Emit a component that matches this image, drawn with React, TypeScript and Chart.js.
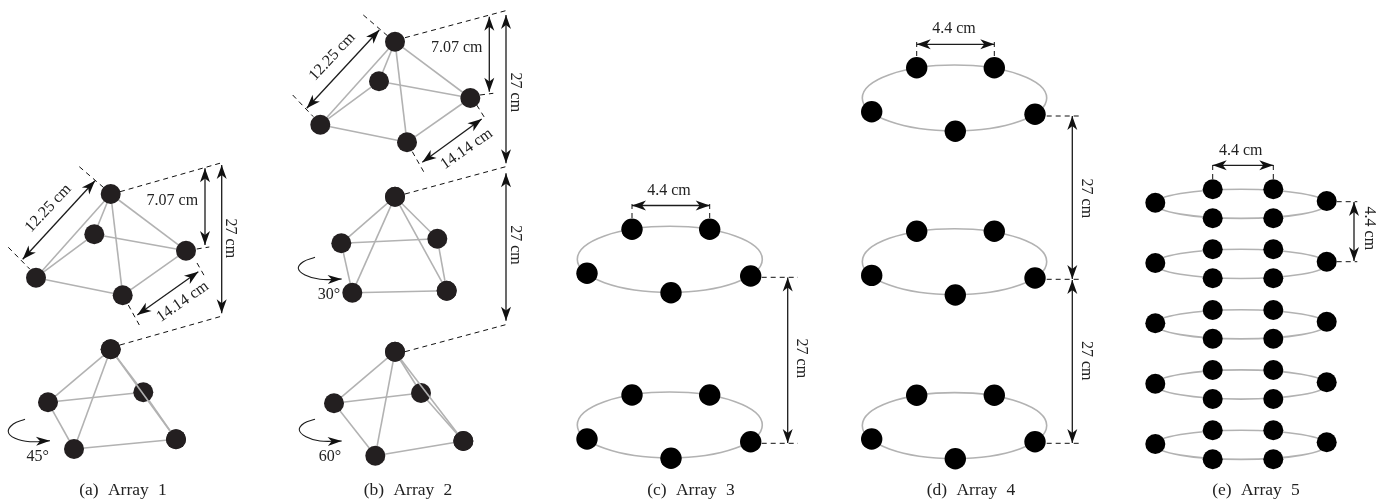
import React, { useEffect, useRef } from "react";
import { Chart, registerables } from "chart.js";

Chart.register(...registerables);

type P = [number, number];
type Seg = [number, number, number, number];

// Nodes of the tilted arrays: [apex, back, right, front, left]
const array1Upper: P[] = [[110.7, 194], [94.3, 234.3], [186, 250.7], [122.7, 295.3], [36, 277.7]];
const array2Upper: P[] = [[395, 41.7], [379, 81.3], [470.3, 98], [407, 142.3], [320.3, 124.7]];
const upperEdges = [[0, 4], [0, 1], [0, 3], [0, 2], [1, 4], [3, 4], [1, 2], [2, 3]];

// Nodes of rotated arrays: [apex, left, back, front, right]
const array1Lower: P[] = [[110.7, 349.3], [48, 402.3], [143.3, 392.3], [74, 449], [176, 439.3]];
const array2Middle: P[] = [[395, 196.7], [341.3, 243.3], [437.3, 238.7], [352.3, 292.7], [446.7, 290.7]];
const array2Lower: P[] = [[395, 351.7], [334, 403.3], [421, 393], [375.3, 455.7], [463.3, 441]];
const lowerEdges = [[0, 1], [0, 3], [0, 2], [1, 2], [1, 3], [3, 4], [2, 4]];
const lowerOverEdge = [0, 4];

const array3Rings: P[][] = [
  [[632, 229.3], [709.7, 229.3], [587, 273.3], [750.7, 276], [671, 292.7]],
  [[632, 395], [709.7, 395], [587, 439], [750.7, 441.7], [671, 458.3]],
];
const array4Rings: P[][] = [
  [[916.7, 67.7], [994.3, 67.7], [871.7, 111.7], [1035, 114.3], [955.3, 131.3]],
  [[916.7, 231.3], [994.3, 231.3], [871.7, 275.4], [1035, 278], [955.3, 295]],
  [[916.7, 395.3], [994.3, 395.3], [871.7, 439], [1035, 441.7], [955.3, 458.7]],
];
const array5Xs = [1155.3, 1212.7, 1273.3, 1326.7];
const array5Upper = [189.3, 249.3, 310, 370, 430.3];
const array5Lower = [218.3, 278.3, 338.7, 399, 459.3];
const array5Left = [202.7, 263, 323.3, 383.7, 444];
const array5Right = [201, 261.7, 321.7, 382.3, 442.3];

// Rings: [centre x, centre y, radius x, radius y]
const rings: number[][] = [
  [669.8, 259.3, 92.5, 33], [669.8, 425, 92.5, 33],
  [954.5, 98, 92.2, 33], [954.5, 261.7, 92.2, 33], [954.5, 425.6, 92.2, 33],
  [1241, 203.8, 85.7, 14.6], [1241, 263.9, 85.7, 14.6], [1241, 324.3, 85.7, 14.6],
  [1241, 384.5, 85.7, 14.6], [1241, 444.8, 85.7, 14.6],
];

const dashedLines: Seg[] = [
  [79.3, 166.7, 110, 193], [8.3, 247.3, 30, 269.3], [120, 191.7, 223.3, 162.3],
  [196.7, 249, 209.3, 247], [197, 263, 205, 277], [128.3, 305, 139.3, 325], [120, 345, 223.3, 315.7],
  [363.3, 15, 393.3, 40.7], [292.7, 95, 313.3, 116.7], [405, 37.7, 508.3, 10],
  [480, 95, 493.3, 93.3], [476.7, 105, 485, 118.3], [412.3, 151.7, 424, 172.3],
  [405, 194, 508.3, 166], [405, 351.7, 508.3, 324],
  [632, 204, 632, 219], [709.7, 204, 709.7, 219],
  [761.7, 277.3, 798, 277.3], [761.7, 443.3, 798, 443.3],
  [916.7, 42, 916.7, 57], [994.3, 42, 994.3, 57],
  [1046.7, 116, 1082.7, 116], [1046.7, 279.3, 1082.7, 279.3], [1046.7, 443.3, 1082.7, 443.3],
  [1212.7, 165, 1212.7, 180], [1273.3, 165, 1273.3, 180],
  [1336.7, 201.7, 1357.3, 201.7], [1336.7, 261.7, 1357.3, 261.7],
];

const dimensions: Seg[] = [
  [95, 180.7, 22.7, 259.3], [205, 168.3, 205, 245], [221.7, 165, 221.7, 313.3], [198.3, 271.7, 137.3, 315],
  [379.3, 30, 306.7, 108.3], [489.3, 16.7, 489.3, 91.7], [506, 15, 506, 163.3], [481.7, 119, 422.3, 162.3],
  [506, 173.3, 506, 320.7],
  [632, 205.5, 709.7, 205.5], [787.7, 277.5, 787.7, 443],
  [916.7, 44.3, 994.3, 44.3], [1072.3, 116, 1072.3, 279], [1072.3, 280, 1072.3, 443],
  [1212.7, 165.3, 1273.3, 165.3], [1354, 202, 1354, 261],
];

const rotationArrows: P[][] = [
  [[25, 419.3], [13.3, 424], [8.3, 431.7], [15, 438.3], [30, 441.7], [50, 440.7]],
  [[315, 257.3], [303.3, 261.7], [298.3, 268.3], [305, 275], [320, 279.3], [341.7, 279]],
  [[315, 419.3], [304, 423.3], [299.3, 430], [306, 436.7], [320, 441], [341.7, 441]],
];

const labelTexts = [
  "12.25 cm", "7.07 cm", "27 cm", "14.14 cm", "45°",
  "12.25 cm", "7.07 cm", "27 cm", "14.14 cm", "27 cm", "30°", "60°",
  "4.4 cm", "27 cm",
  "4.4 cm", "27 cm", "27 cm",
  "4.4 cm", "4.4 cm",
];
const labelXs = [48.3, 172.3, 230, 182.7, 37.7, 332.3, 456.7, 515, 466.7, 515, 329, 330, 669, 801.7, 954, 1086, 1086, 1240.7, 1369.3];
const labelYs = [208.3, 200.7, 238.3, 301.7, 456.7, 56.7, 47.7, 92.3, 149, 245, 294.3, 456.7, 190.7, 358.3, 28.3, 198.3, 360.7, 150.7, 228.3];
const labelAngles = [-47, 0, 90, -35, 0, -47, 0, 90, -35, 90, 0, 0, 0, 90, 0, 90, 90, 0, 90];

const captions = ["(a) Array 1", "(b) Array 2", "(c) Array 3", "(d) Array 4", "(e) Array 5"];
const captionXs = [123, 408, 691, 971, 1256];
const captionY = 490.5;

const GREY = "#b2b2b2";
const DARK = "#231f20";

const pts = (a: P[]) => a.map(([x, y]) => ({ x, y }));

function edgeSet(nodes: P[], e: number[], order = 3) {
  return {
    type: "line" as const,
    data: [{ x: nodes[e[0]][0], y: nodes[e[0]][1] }, { x: nodes[e[1]][0], y: nodes[e[1]][1] }],
    borderColor: GREY, borderWidth: 1.6, pointRadius: 0, order,
  };
}
function segSet(s: Seg, dashed: boolean) {
  return {
    type: "line" as const,
    data: [{ x: s[0], y: s[1] }, { x: s[2], y: s[3] }],
    borderColor: dashed ? "#111111" : "#1c1c1c",
    borderWidth: dashed ? 1 : 1.3,
    borderDash: dashed ? [5, 4] : [],
    pointRadius: 0, order: 2,
  };
}
function dotSet(nodes: P[], color: string, r: number, order = 1) {
  return {
    type: "scatter" as const,
    data: pts(nodes),
    backgroundColor: color, borderColor: color, borderWidth: 0,
    pointRadius: r, pointHoverRadius: r, showLine: false, order,
  };
}

function head(ctx: CanvasRenderingContext2D, tipX: number, tipY: number, fromX: number, fromY: number, len = 14, halfW = 5) {
  const a = Math.atan2(tipY - fromY, tipX - fromX);
  ctx.save();
  ctx.translate(tipX, tipY);
  ctx.rotate(a);
  ctx.fillStyle = "#111111";
  ctx.beginPath();
  ctx.moveTo(0, 0);
  ctx.lineTo(-len, -halfW);
  ctx.lineTo(-len * 0.72, 0);
  ctx.lineTo(-len, halfW);
  ctx.closePath();
  ctx.fill();
  ctx.restore();
}

const diagramPlugin = {
  id: "diagram",
  beforeDatasetsDraw(chart: any) {
    const { ctx, scales: { x, y } } = chart;
    ctx.save();
    ctx.strokeStyle = GREY;
    ctx.lineWidth = 1.6;
    rings.forEach(([cx, cy, rx, ry]) => {
      const px = x.getPixelForValue(cx);
      const py = y.getPixelForValue(cy);
      ctx.beginPath();
      ctx.ellipse(px, py, x.getPixelForValue(cx + rx) - px, y.getPixelForValue(cy + ry) - py, 0, 0, Math.PI * 2);
      ctx.stroke();
    });
    ctx.restore();
  },
  afterDatasetsDraw(chart: any) {
    const { ctx, scales: { x, y } } = chart;
    const X = (v: number) => x.getPixelForValue(v);
    const Y = (v: number) => y.getPixelForValue(v);
    dimensions.forEach(([x1, y1, x2, y2]) => {
      head(ctx, X(x1), Y(y1), X(x2), Y(y2));
      head(ctx, X(x2), Y(y2), X(x1), Y(y1));
    });
    rotationArrows.forEach((a) => {
      const end = a[a.length - 1];
      head(ctx, X(end[0]), Y(end[1]), X(end[0]) - 14, Y(end[1]) + 0.5, 14, 4.5);
    });
    ctx.save();
    ctx.fillStyle = "#222222";
    ctx.textAlign = "center";
    ctx.textBaseline = "middle";
    ctx.font = '16px "Liberation Serif"';
    labelTexts.forEach((t, i) => {
      ctx.save();
      ctx.translate(X(labelXs[i]), Y(labelYs[i]));
      ctx.rotate((labelAngles[i] * Math.PI) / 180);
      ctx.fillText(t, 0, 0);
      ctx.restore();
    });
    ctx.font = '17.5px "Liberation Serif"';
    (ctx as any).wordSpacing = "5px";
    captions.forEach((t, i) => ctx.fillText(t, X(captionXs[i]), Y(captionY)));
    ctx.restore();
  },
};

export default function App() {
  const ref = useRef<HTMLCanvasElement>(null);
  useEffect(() => {
    const datasets: any[] = [];
    [array1Upper, array2Upper].forEach((n) => {
      upperEdges.forEach((e) => datasets.push(edgeSet(n, e)));
      datasets.push(dotSet(n, DARK, 10));
    });
    [array1Lower, array2Middle, array2Lower].forEach((n) => {
      lowerEdges.forEach((e) => datasets.push(edgeSet(n, e)));
      datasets.push(edgeSet(n, lowerOverEdge, 0));
      datasets.push(dotSet(n, DARK, 10));
      // apex and outer node sit above the edge that crosses the back node
      datasets.push(dotSet([n[lowerOverEdge[0]], n[lowerOverEdge[1]]], DARK, 10, -1));
    });
    [...array3Rings, ...array4Rings].forEach((n) => datasets.push(dotSet(n, "#000000", 10.7)));
    array5Upper.forEach((_, i) => {
      const nodes: P[] = [
        [array5Xs[0], array5Left[i]], [array5Xs[1], array5Upper[i]], [array5Xs[2], array5Upper[i]],
        [array5Xs[1], array5Lower[i]], [array5Xs[2], array5Lower[i]], [array5Xs[3], array5Right[i]],
      ];
      datasets.push(dotSet(nodes, "#000000", 10));
    });
    dashedLines.forEach((s) => datasets.push(segSet(s, true)));
    dimensions.forEach((s) => datasets.push(segSet(s, false)));
    rotationArrows.forEach((a) =>
      datasets.push({
        type: "line", data: pts(a), borderColor: "#1c1c1c", borderWidth: 1.1, pointRadius: 0, tension: 0.4, order: 2,
      })
    );

    const chart = new Chart(ref.current as HTMLCanvasElement, {
      type: "scatter",
      data: { datasets },
      options: {
        animation: false,
        responsive: false,
        events: [],
        layout: { padding: 0, autoPadding: false },
        plugins: { legend: { display: false }, tooltip: { enabled: false } },
        scales: {
          x: { type: "linear", min: 0, max: 1387, display: false },
          y: { type: "linear", min: 0, max: 502, reverse: true, display: false },
        },
      },
      plugins: [diagramPlugin],
    } as any);
    return () => chart.destroy();
  }, []);
  return (
    <div style={{ position: "fixed", left: 0, top: 0, width: 1387, height: 502, background: "#fff" }}>
      <canvas ref={ref} width={1387} height={502} style={{ display: "block" }} />
    </div>
  );
}
